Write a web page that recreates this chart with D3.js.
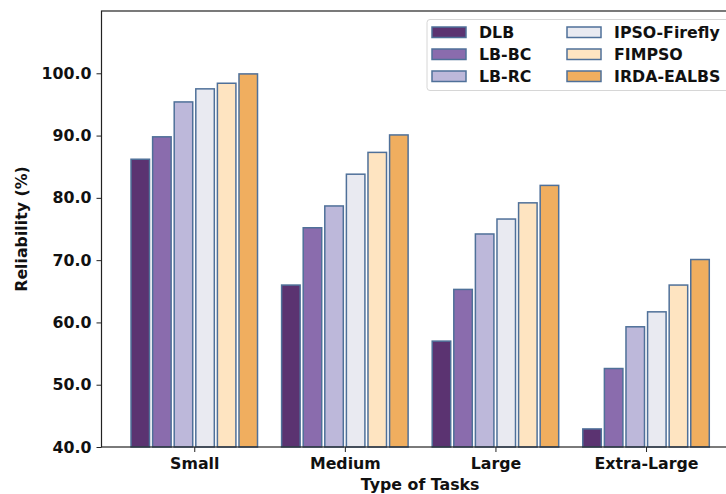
<!DOCTYPE html>
<html>
<head>
<meta charset="utf-8">
<script src="https://cdn.jsdelivr.net/npm/d3@7"></script>
<style>
  html, body { margin: 0; padding: 0; background: #fff; }
  svg { display: block; }
  text { font-family: "DejaVu Sans", sans-serif; font-weight: bold; fill: #111; }
</style>
</head>
<body>
<svg id="chart" width="726" height="494"></svg>
<script>
// Task-size categories along the x axis
const categories = ["Small", "Medium", "Large", "Extra-Large"];

// Load-balancing methods (one bar per method in every group)
const methods = ["DLB", "LB-BC", "LB-RC", "IPSO-Firefly", "FIMPSO", "IRDA-EALBS"];

// Reliability (%) per method, in category order
const DLB        = [86.2, 66.0, 57.0, 42.9];
const LB_BC      = [89.8, 75.2, 65.3, 52.6];
const LB_RC      = [95.4, 78.7, 74.2, 59.3];
const IPSO       = [97.5, 83.8, 76.6, 61.7];
const FIMPSO     = [98.4, 87.3, 79.2, 66.0];
const IRDA_EALBS = [99.9, 90.1, 82.0, 70.1];
const seriesValues = [DLB, LB_BC, LB_RC, IPSO, FIMPSO, IRDA_EALBS];

// Y axis tick values
const yTicks = [40, 50, 60, 70, 80, 90, 100];

const fills = ["#5b3371", "#8a6cad", "#bdb8da", "#e9eaf1", "#fee4c1", "#f0ae5f"];
const edge = "#4f7099";
const fontPx = "15.8px";

const svg = d3.select("#chart");

// Plot area (the right edge extends past the page)
const plotL = 101.5, plotR = 738.8, plotT = 11, plotB = 447;

const x = d3.scaleLinear().domain([-0.616, 3.616]).range([plotL, plotR]);
const y = d3.scaleLinear().domain([40, 110]).range([plotB, plotT]);

const step = 0.1434;   // distance between neighbouring bars in a group
const barW = 0.123;    // bar width, in category units

const bars = svg.append("g");
seriesValues.forEach((vals, si) => {
  bars.selectAll(null)
    .data(vals)
    .join("rect")
    .attr("x", (v, ci) => x(ci + (si - 2.5) * step - barW / 2))
    .attr("width", x(barW) - x(0))
    .attr("y", v => y(v))
    .attr("height", v => y(40) - y(v))
    .attr("fill", fills[si])
    .attr("stroke", edge)
    .attr("stroke-width", 1.5);
});

// Axes
const yAxis = svg.append("g")
  .attr("transform", `translate(${plotL},0)`)
  .call(d3.axisLeft(y).tickValues(yTicks).tickFormat(d3.format(".1f")).tickSize(5).tickPadding(5));
yAxis.select(".domain").remove();
yAxis.selectAll("text").style("font-size", fontPx).style("font-weight", "bold").attr("fill", "#111");
yAxis.selectAll("line").attr("stroke", "#222");

const xAxis = svg.append("g")
  .attr("transform", `translate(0,${plotB})`)
  .call(d3.axisBottom(x).tickValues([0, 1, 2, 3]).tickFormat(i => categories[i]).tickSize(5).tickPadding(6));
xAxis.select(".domain").remove();
xAxis.selectAll("text").style("font-size", fontPx).style("font-weight", "bold").attr("fill", "#111");
xAxis.selectAll("line").attr("stroke", "#222");

// Frame
svg.append("rect")
  .attr("x", plotL).attr("y", plotT)
  .attr("width", plotR - plotL).attr("height", plotB - plotT)
  .attr("fill", "none").attr("stroke", "#222").attr("stroke-width", 1.2);

// Axis titles
svg.append("text")
  .attr("x", (plotL + plotR) / 2).attr("y", 490)
  .attr("text-anchor", "middle")
  .style("font-size", fontPx)
  .text("Type of Tasks");

svg.append("text")
  .attr("transform", `translate(27,${(plotT + plotB) / 2}) rotate(-90)`)
  .attr("text-anchor", "middle")
  .style("font-size", fontPx)
  .text("Reliability (%)");

// Legend: two columns of three entries
const legend = svg.append("g");
legend.append("rect")
  .attr("x", 427).attr("y", 19.5)
  .attr("width", 330).attr("height", 71)
  .attr("rx", 3)
  .attr("fill", "#fff").attr("fill-opacity", 0.85)
  .attr("stroke", "#d6d6d6").attr("stroke-width", 1);

methods.forEach((m, i) => {
  const col = Math.floor(i / 3), row = i % 3;
  const hx = 432 + col * 135, ty = 32 + row * 22;
  legend.append("rect")
    .attr("x", hx).attr("y", ty - 5)
    .attr("width", 34).attr("height", 10.5)
    .attr("fill", fills[i]).attr("stroke", edge).attr("stroke-width", 1.5);
  legend.append("text")
    .attr("x", hx + 47).attr("y", ty)
    .attr("dy", "0.36em")
    .style("font-size", fontPx)
    .text(m);
});
</script>
</body>
</html>
